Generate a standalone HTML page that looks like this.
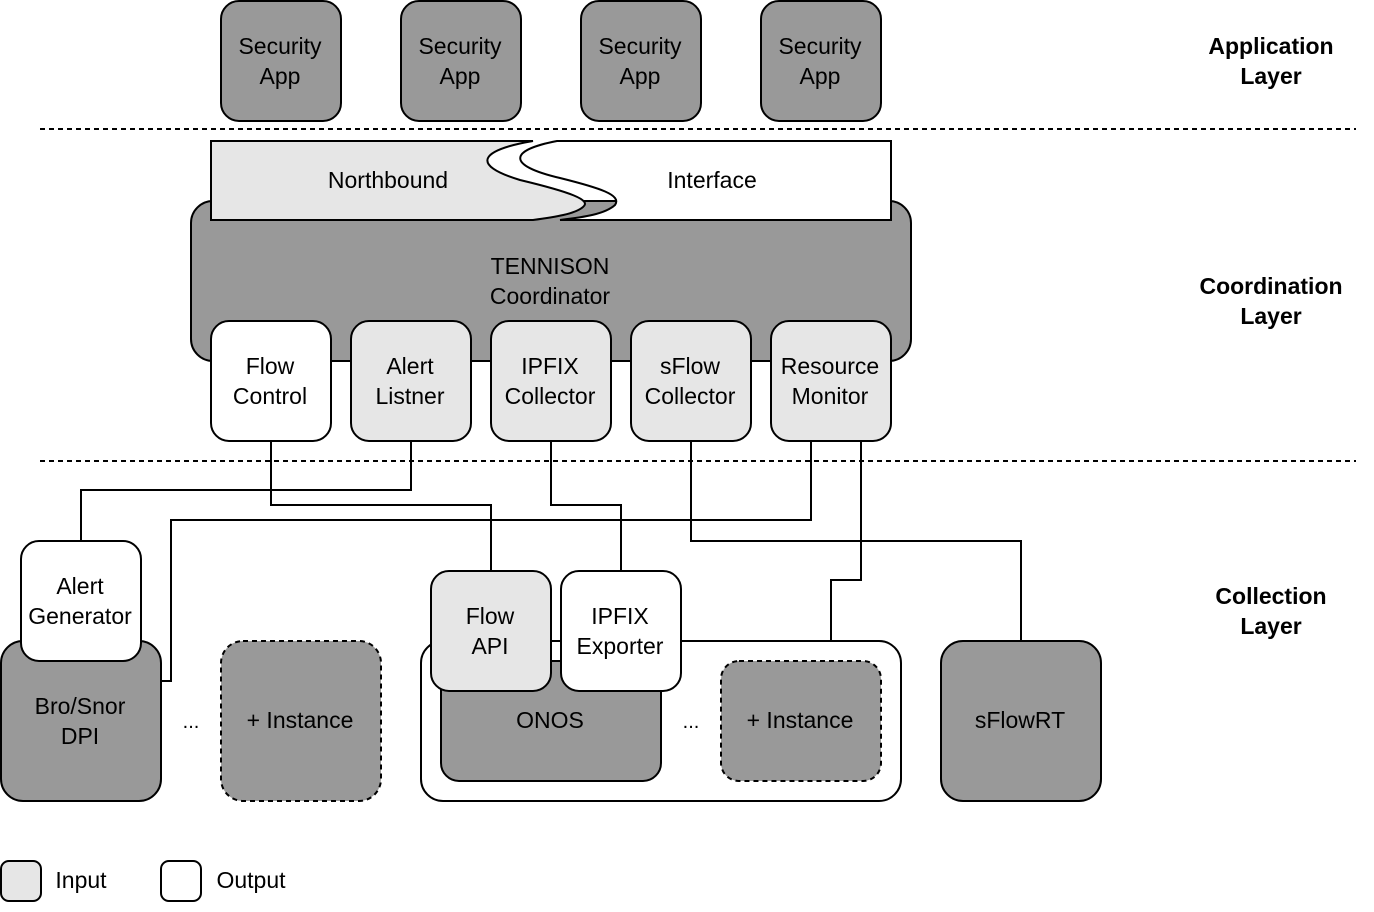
<!DOCTYPE html>
<html><head><meta charset="utf-8"><style>body{margin:0;background:#fff}svg{display:block}</style></head><body>
<svg width="1374" height="912" viewBox="0 0 1374 912" xmlns="http://www.w3.org/2000/svg" font-family="Liberation Sans, Arial, sans-serif" font-size="23" text-anchor="middle">
<g stroke="#000" stroke-width="2">
<rect x="221" y="1" width="120" height="120" rx="18" fill="#999"/>
<rect x="401" y="1" width="120" height="120" rx="18" fill="#999"/>
<rect x="581" y="1" width="120" height="120" rx="18" fill="#999"/>
<rect x="761" y="1" width="120" height="120" rx="18" fill="#999"/>
<line x1="40" y1="129" x2="1356" y2="129" stroke-dasharray="5,4"/>
<line x1="40" y1="461" x2="1356" y2="461" stroke-dasharray="5,4"/>
<rect x="191" y="201" width="720" height="160" rx="22" fill="#999"/>
<path d="M583,200 L617,200 C612,212 590,216 560,220 L533,220 C565,215 582,210 583,200Z" fill="#999" stroke="none"/>
<path d="M211,141 L533,141 C480,150 470,165 520,180 C570,192 592,200 583,207 C575,214 555,217 533,220 L211,220Z" fill="#e6e6e6"/>
<path d="M557,141 L891,141 L891,220 L560,220 C585,217 605,214 615,205 C622,195 600,188 560,178 C505,165 510,150 557,141Z" fill="#fff"/>
<line x1="584" y1="201" x2="617" y2="201"/>
<rect x="211" y="321" width="120" height="120" rx="18" fill="#fff"/>
<rect x="351" y="321" width="120" height="120" rx="18" fill="#e6e6e6"/>
<rect x="491" y="321" width="120" height="120" rx="18" fill="#e6e6e6"/>
<rect x="631" y="321" width="120" height="120" rx="18" fill="#e6e6e6"/>
<rect x="771" y="321" width="120" height="120" rx="18" fill="#e6e6e6"/>
<g fill="none">
<polyline points="271,441 271,505 491,505 491,571"/>
<polyline points="411,441 411,490 81,490 81,541"/>
<polyline points="551,441 551,505 621,505 621,571"/>
<polyline points="691,441 691,541 1021,541 1021,641"/>
<polyline points="811,441 811,520 171,520 171,681 161,681"/>
<polyline points="861,441 861,580 831,580 831,641"/>
</g>
<rect x="1" y="641" width="160" height="160" rx="22" fill="#999"/>
<rect x="221" y="641" width="160" height="160" rx="22" fill="#999" stroke-dasharray="5,4"/>
<rect x="421" y="641" width="480" height="160" rx="22" fill="#fff"/>
<rect x="441" y="661" width="220" height="120" rx="18" fill="#999"/>
<rect x="721" y="661" width="160" height="120" rx="18" fill="#999" stroke-dasharray="5,4"/>
<rect x="941" y="641" width="160" height="160" rx="22" fill="#999"/>
<rect x="21" y="541" width="120" height="120" rx="18" fill="#fff"/>
<rect x="431" y="571" width="120" height="120" rx="18" fill="#e6e6e6"/>
<rect x="561" y="571" width="120" height="120" rx="18" fill="#fff"/>
<line x1="551" y1="641" x2="561" y2="641"/>
<rect x="1" y="861" width="40" height="40" rx="8" fill="#e6e6e6"/>
<rect x="161" y="861" width="40" height="40" rx="8" fill="#fff"/>
</g>
<g fill="#000">
<text x="280" y="54">Security</text><text x="280" y="84">App</text>
<text x="460" y="54">Security</text><text x="460" y="84">App</text>
<text x="640" y="54">Security</text><text x="640" y="84">App</text>
<text x="820" y="54">Security</text><text x="820" y="84">App</text>
<text x="388" y="188">Northbound</text>
<text x="712" y="188">Interface</text>
<text x="550" y="274">TENNISON</text><text x="550" y="304">Coordinator</text>
<text x="270" y="374">Flow</text><text x="270" y="404">Control</text>
<text x="410" y="374">Alert</text><text x="410" y="404">Listner</text>
<text x="550" y="374">IPFIX</text><text x="550" y="404">Collector</text>
<text x="690" y="374">sFlow</text><text x="690" y="404">Collector</text>
<text x="830" y="374">Resource</text><text x="830" y="404">Monitor</text>
<text x="80" y="594">Alert</text><text x="80" y="624">Generator</text>
<text x="490" y="624">Flow</text><text x="490" y="654">API</text>
<text x="620" y="624">IPFIX</text><text x="620" y="654">Exporter</text>
<text x="80" y="714">Bro/Snor</text><text x="80" y="744">DPI</text>
<text x="191" y="728" font-size="20">...</text>
<text x="300" y="728">+ Instance</text>
<text x="550" y="728">ONOS</text>
<text x="691" y="728" font-size="20">...</text>
<text x="800" y="728">+ Instance</text>
<text x="1020" y="728">sFlowRT</text>
<text x="81" y="888">Input</text>
<text x="251" y="888">Output</text>
<g font-weight="bold" font-size="23">
<text x="1271" y="54">Application</text><text x="1271" y="84">Layer</text>
<text x="1271" y="294">Coordination</text><text x="1271" y="324">Layer</text>
<text x="1271" y="604">Collection</text><text x="1271" y="634">Layer</text>
</g>
</g>
</svg>
</body></html>
